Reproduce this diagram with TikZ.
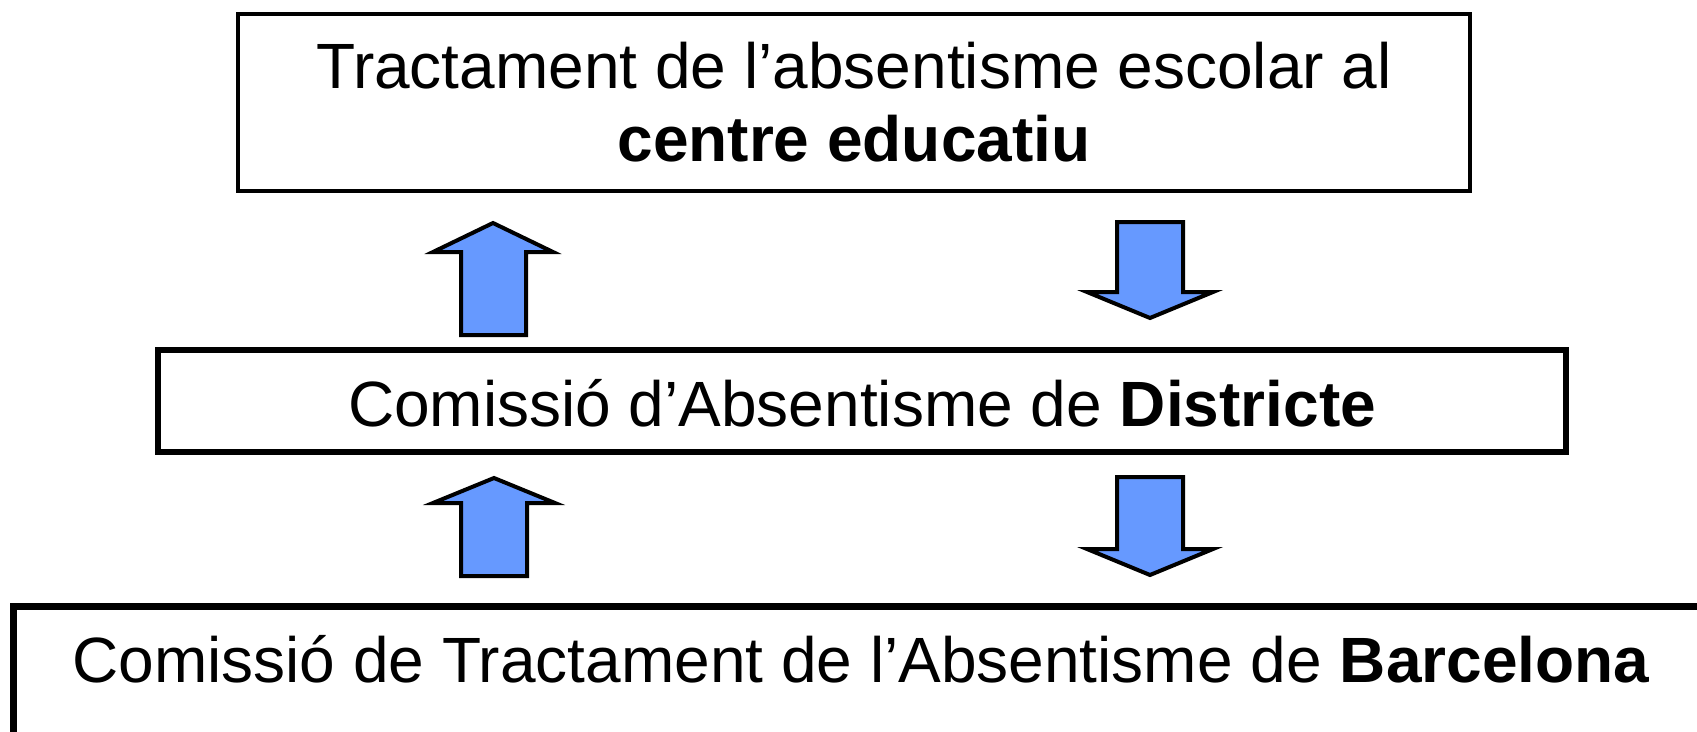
\documentclass[tikz,border=0pt]{standalone}
\usepackage{fontspec}
\setmainfont{Liberation Sans}
\definecolor{arrowblue}{HTML}{6699FF}
\begin{document}
\begin{tikzpicture}[x=1pt,y=-1pt,
  box/.style={draw=black, fill=white, inner sep=0pt},
  lbl/.style={anchor=base, inner sep=0pt, font=\fontsize{64}{74}\selectfont},
  blockarrow/.style={fill=arrowblue, draw=black, line width=4pt, line join=miter}]
\useasboundingbox (0,0) rectangle (1697,731);
\clip (0,0) rectangle (1697,731);
\fill[white] (0,0) rectangle (1697,731);
% boxes
\node[box, line width=4pt, minimum width=1232pt, minimum height=177pt] (top) at (854,102.5) {};
\node[box, line width=6pt, minimum width=1408pt, minimum height=102pt] (mid) at (862,401) {};
\node[box, line width=7pt, minimum width=1695pt, minimum height=300pt] (bot) at (861,756) {};
% texts
\node[lbl] (t1) at (854,88) {Tractament de l’absentisme escolar al};
\node[lbl] (t2) at (854,161) {\bfseries centre educatiu};
\node[lbl] (t3) at (862,426) {Comissió d’Absentisme de \textbf{Districte}};
\node[lbl] (t4) at (861,682) {Comissió de Tractament de l’Absentisme de \textbf{Barcelona}};
% block arrows
\draw[blockarrow] (461,335) -- (461,252) -- (433,252) -- (493,223) -- (553,252) -- (526,252) -- (526,335) -- cycle;
\draw[blockarrow] (1117,222) -- (1183,222) -- (1183,292) -- (1213,292) -- (1150,318) -- (1087,292) -- (1117,292) -- cycle;
\draw[blockarrow] (461,576) -- (461,503) -- (433,503) -- (494,478) -- (555,503) -- (527,503) -- (527,576) -- cycle;
\draw[blockarrow] (1117,477) -- (1183,477) -- (1183,549) -- (1213,549) -- (1150,575) -- (1087,549) -- (1117,549) -- cycle;
\end{tikzpicture}
\end{document}
